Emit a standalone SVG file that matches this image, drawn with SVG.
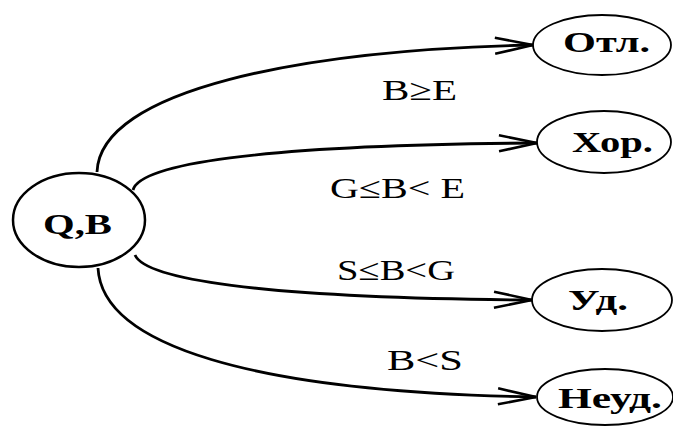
<svg xmlns="http://www.w3.org/2000/svg" width="673" height="426" viewBox="0 0 673 426">
<defs>
<style>
.node{fill:#fff;stroke:#000;stroke-width:1.8}
.nt{font-family:"Liberation Serif",serif;font-weight:bold;font-size:30px;fill:#000}
.lt{font-family:"Liberation Serif",serif;font-size:30px;fill:#000}
.edge{fill:none;stroke:#000;stroke-width:2.8;marker-end:url(#arr)}
</style>
<marker id="arr" viewBox="-42 -12 46 24" refX="0" refY="0" markerWidth="46" markerHeight="24" markerUnits="userSpaceOnUse" orient="auto">
<path d="M-38,-8 L0,0 L-38,8" fill="none" stroke="#000" stroke-width="2.6"/>
</marker>
</defs>
<rect width="673" height="426" fill="#fff"/>
<g id="edges">
<path class="edge" d="M97,172 C100,90 300,50 533,45"/>
<path class="edge" d="M133,190 C140,165 250,145 537,143"/>
<path class="edge" d="M135,255 C145,278 250,298 532,300"/>
<path class="edge" d="M98,268 C102,345 250,392 536,397"/>
</g>
<g id="labels">
<text class="lt" x="382" y="100" textLength="75" lengthAdjust="spacingAndGlyphs">B≥E</text>
<text class="lt" x="330" y="198" textLength="135" lengthAdjust="spacingAndGlyphs">G≤B&lt; E</text>
<text class="lt" x="337" y="280" textLength="118" lengthAdjust="spacingAndGlyphs">S≤B&lt;G</text>
<text class="lt" x="387" y="370" textLength="76" lengthAdjust="spacingAndGlyphs">B&lt;S</text>
</g>
<g id="node-qb">
<ellipse class="node" cx="79" cy="220" rx="66" ry="47" style="stroke-width:2.5"/>
<text class="nt" x="43" y="234" textLength="69" lengthAdjust="spacingAndGlyphs">Q,B</text>
</g>
<g id="node-otl">
<ellipse class="node" cx="602" cy="45" rx="69" ry="30"/>
<text class="nt" x="563" y="52" textLength="87" lengthAdjust="spacingAndGlyphs">Отл.</text>
</g>
<g id="node-hor">
<ellipse class="node" cx="604" cy="142" rx="67" ry="31"/>
<text class="nt" x="572" y="152" textLength="81" lengthAdjust="spacingAndGlyphs">Хор.</text>
</g>
<g id="node-ud">
<ellipse class="node" cx="602" cy="300" rx="70" ry="31"/>
<text class="nt" x="568" y="310" textLength="60" lengthAdjust="spacingAndGlyphs">Уд.</text>
</g>
<g id="node-neud">
<ellipse class="node" cx="605" cy="397" rx="68" ry="28"/>
<text class="nt" x="558" y="408" textLength="104" lengthAdjust="spacingAndGlyphs">Неуд.</text>
</g>
</svg>
